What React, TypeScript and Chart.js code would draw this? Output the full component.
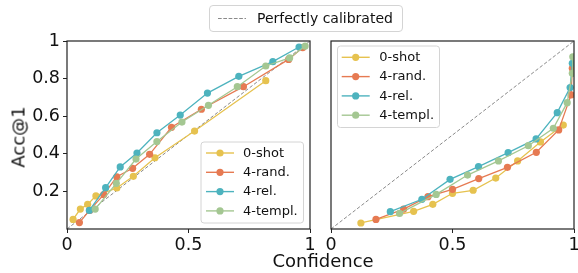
import React, { useEffect, useRef } from "react";
import { Chart, registerables } from "chart.js";

Chart.register(...registerables);

const FONT = '"DejaVu Sans", sans-serif';

// ---- Data (confidence, accuracy) ----
const seriesLabels = ["0-shot", "4-rand.", "4-rel.", "4-templ."];
const seriesColors = ["#E6C24F", "#E67A52", "#4DB3BE", "#A4C792"];

// Left panel
const leftZeroShotConf = [0.025, 0.055, 0.085, 0.119, 0.205, 0.273, 0.362, 0.525, 0.818];
const leftZeroShotAcc = [0.051, 0.106, 0.131, 0.176, 0.218, 0.28, 0.379, 0.521, 0.789];
const leftRandConf = [0.051, 0.093, 0.151, 0.205, 0.27, 0.34, 0.43, 0.553, 0.726, 0.912, 0.97];
const leftRandAcc = [0.034, 0.099, 0.183, 0.278, 0.323, 0.397, 0.541, 0.637, 0.757, 0.902, 0.965];
const leftRelConf = [0.092, 0.159, 0.219, 0.288, 0.37, 0.466, 0.578, 0.707, 0.847, 0.955];
const leftRelAcc = [0.099, 0.22, 0.33, 0.404, 0.512, 0.606, 0.723, 0.812, 0.89, 0.968];
const leftTemplConf = [0.116, 0.203, 0.284, 0.37, 0.473, 0.582, 0.701, 0.818, 0.916, 0.98];
const leftTemplAcc = [0.106, 0.243, 0.372, 0.465, 0.569, 0.658, 0.757, 0.867, 0.91, 0.973];

// Right panel
const rightZeroShotConf = [0.123, 0.34, 0.419, 0.5, 0.585, 0.678, 0.768, 0.862, 0.956];
const rightZeroShotAcc = [0.032, 0.094, 0.131, 0.19, 0.206, 0.271, 0.362, 0.463, 0.553];
const rightRandConf = [0.185, 0.299, 0.399, 0.5, 0.608, 0.726, 0.845, 0.937, 0.988, 0.993];
const rightRandAcc = [0.051, 0.106, 0.172, 0.211, 0.268, 0.328, 0.408, 0.527, 0.713, 0.855];
const rightRelConf = [0.244, 0.374, 0.49, 0.607, 0.729, 0.844, 0.931, 0.984, 0.993];
const rightRelAcc = [0.092, 0.158, 0.264, 0.332, 0.406, 0.479, 0.619, 0.752, 0.881];
const rightTemplConf = [0.282, 0.433, 0.562, 0.689, 0.812, 0.915, 0.972, 0.993, 0.995];
const rightTemplAcc = [0.083, 0.184, 0.287, 0.362, 0.443, 0.536, 0.672, 0.828, 0.916];

const diagonalConf = [0, 1];
const diagonalAcc = [0, 1];

const xTicks = [0, 0.5, 1];
const yTicks = [0.2, 0.4, 0.6, 0.8, 1];

const zip = (xs: number[], ys: number[]) => xs.map((x, i) => ({ x, y: ys[i] }));

const fmt = (v: number) => {
  const r = Math.round(v * 10) / 10;
  return String(r);
};

const panelDecor = {
  id: "panelDecor",
  afterDatasetsDraw(chart: any, _args: any, opts: any) {
    const { ctx, chartArea: a } = chart;
    ctx.save();
    ctx.strokeStyle = "#222";
    ctx.lineWidth = 1.2;
    ctx.strokeRect(a.left, a.top, a.right - a.left, a.bottom - a.top);
    const L = opts.legend;
    if (L) {
      ctx.beginPath();
      const r = 3;
      const { x, y, w, h } = L;
      ctx.moveTo(x + r, y);
      ctx.arcTo(x + w, y, x + w, y + h, r);
      ctx.arcTo(x + w, y + h, x, y + h, r);
      ctx.arcTo(x, y + h, x, y, r);
      ctx.arcTo(x, y, x + w, y, r);
      ctx.closePath();
      ctx.fillStyle = "rgba(255,255,255,0.85)";
      ctx.fill();
      ctx.strokeStyle = "#d4d4d4";
      ctx.lineWidth = 1;
      ctx.stroke();
      let i = 0;
      chart.data.datasets.forEach((ds: any) => {
        if (!ds.label) return;
        const cy = L.firstY + i * L.step;
        ctx.strokeStyle = ds.borderColor;
        ctx.lineWidth = 1.4;
        ctx.beginPath();
        ctx.moveTo(L.lineX, cy);
        ctx.lineTo(L.lineX + L.lineW, cy);
        ctx.stroke();
        ctx.fillStyle = ds.borderColor;
        ctx.beginPath();
        ctx.arc(L.lineX + L.lineW / 2, cy, 3.6, 0, Math.PI * 2);
        ctx.fill();
        ctx.fillStyle = "#111";
        ctx.font = `13px ${FONT}`;
        ctx.textBaseline = "middle";
        ctx.textAlign = "left";
        ctx.fillText(ds.label, L.textX, cy + 0.5);
        i++;
      });
    }
    ctx.restore();
  },
};

function makeDatasets(pairs: [number[], number[]][]) {
  const sets: any[] = pairs.map((p, i) => ({
    label: seriesLabels[i],
    data: zip(p[0], p[1]),
    borderColor: seriesColors[i],
    backgroundColor: seriesColors[i],
    pointBackgroundColor: seriesColors[i],
    pointBorderWidth: 0,
    pointRadius: 3.6,
    borderWidth: 1.3,
    tension: 0,
    order: 4 - i,
  }));
  sets.push({
    label: "",
    data: zip(diagonalConf, diagonalAcc),
    borderColor: "#8a8a8a",
    borderWidth: 1,
    borderDash: [3.5, 2],
    pointRadius: 0,
    order: 10,
  });
  return sets;
}

function makeConfig(datasets: any[], showY: boolean, padding: any, legend: any) {
  const tickFont = { family: FONT, size: 17.5 };
  return {
    type: "line",
    data: { datasets },
    options: {
      animation: false,
      responsive: false,
      devicePixelRatio: 1,
      layout: { padding },
      plugins: {
        legend: { display: false },
        tooltip: { enabled: false },
        panelDecor: { legend },
      },
      scales: {
        x: {
          type: "linear",
          min: 0,
          max: 1,
          afterBuildTicks: (s: any) => {
            s.ticks = xTicks.map((v) => ({ value: v }));
          },
          afterFit: (s: any) => {
            s.height = 44;
          },
          ticks: {
            font: tickFont,
            color: "#111",
            padding: 2,
            maxRotation: 0,
            callback: (v: number) => fmt(v),
          },
          grid: { drawOnChartArea: false, drawTicks: true, tickLength: 4, color: "#222" },
          border: { display: false },
        },
        y: {
          type: "linear",
          min: 0,
          max: 1,
          display: showY,
          afterBuildTicks: (s: any) => {
            s.ticks = yTicks.map((v) => ({ value: v }));
          },
          afterFit: (s: any) => {
            s.width = showY ? 67 : 0;
          },
          ticks: {
            font: tickFont,
            color: "#111",
            padding: 3,
            callback: (v: number) => fmt(v),
          },
          grid: { drawOnChartArea: false, drawTicks: true, tickLength: 4, color: "#222" },
          border: { display: false },
        },
      },
    },
    plugins: [panelDecor],
  };
}

export default function App() {
  const leftRef = useRef<HTMLCanvasElement>(null);
  const rightRef = useRef<HTMLCanvasElement>(null);

  useEffect(() => {
    const left = new Chart(
      leftRef.current as HTMLCanvasElement,
      makeConfig(
        makeDatasets([
          [leftZeroShotConf, leftZeroShotAcc],
          [leftRandConf, leftRandAcc],
          [leftRelConf, leftRelAcc],
          [leftTemplConf, leftTemplAcc],
        ]),
        true,
        { top: 41, right: 10, left: 0, bottom: 0 },
        { x: 201, y: 142, w: 102.5, h: 81, firstY: 153, step: 19.3, lineX: 206, lineW: 28, textX: 243 }
      ) as any
    );
    const right = new Chart(
      rightRef.current as HTMLCanvasElement,
      makeConfig(
        makeDatasets([
          [rightZeroShotConf, rightZeroShotAcc],
          [rightRandConf, rightRandAcc],
          [rightRelConf, rightRelAcc],
          [rightTemplConf, rightTemplAcc],
        ]),
        false,
        { top: 41, right: 16, left: 11, bottom: 0 },
        { x: 17.5, y: 46, w: 102, h: 81.5, firstY: 57.3, step: 19.3, lineX: 21.7, lineW: 28, textX: 59.3 }
      ) as any
    );
    return () => {
      left.destroy();
      right.destroy();
    };
  }, []);

  return (
    <div
      style={{
        position: "fixed",
        left: 0,
        top: 0,
        width: 578,
        height: 273,
        overflow: "hidden",
        background: "#fff",
        fontFamily: FONT,
      }}
    >
      <canvas ref={leftRef} width={320} height={273} style={{ position: "absolute", left: 0, top: 0 }} />
      <canvas ref={rightRef} width={270} height={273} style={{ position: "absolute", left: 320, top: 0 }} />
      <div
        style={{
          position: "absolute",
          left: 209,
          top: 5,
          width: 192,
          height: 25,
          border: "1px solid #d4d4d4",
          borderRadius: 4,
          background: "#fff",
        }}
      >
        <svg width={40} height={25} style={{ position: "absolute", left: 0, top: 0 }}>
          <line x1={8} y1={12.5} x2={36} y2={12.5} stroke="#8a8a8a" strokeWidth={1} strokeDasharray="3.7 1.6" />
        </svg>
        <span
          style={{
            position: "absolute",
            left: 47,
            top: 0,
            lineHeight: "25px",
            fontSize: 14,
            color: "#111",
            whiteSpace: "nowrap",
          }}
        >
          Perfectly calibrated
        </span>
      </div>
      <div
        style={{
          position: "absolute",
          left: 323,
          top: 260,
          transform: "translate(-50%, -50%)",
          fontSize: 18,
          color: "#111",
          whiteSpace: "nowrap",
        }}
      >
        Confidence
      </div>
      <div
        style={{
          position: "absolute",
          left: 18,
          top: 137,
          transform: "translate(-50%, -50%) rotate(-90deg)",
          fontSize: 18,
          color: "#111",
          whiteSpace: "nowrap",
        }}
      >
        Acc@1
      </div>
    </div>
  );
}
